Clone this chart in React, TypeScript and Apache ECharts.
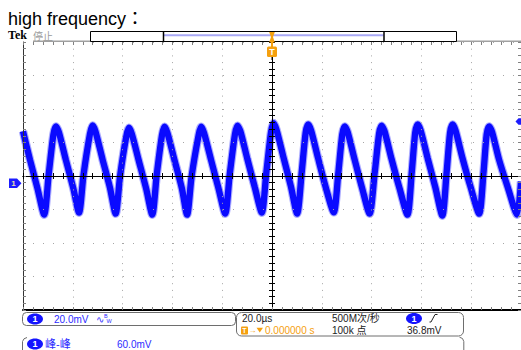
import React, { useEffect, useRef } from 'react';
import * as echarts from 'echarts';

// ---- values ----
// time in µs (screen centre = trigger = 0), CH1 voltage in mV relative to the CH1 ground marker
const TIME_US = [
  -100, -97.2, -94.2, -91.5,
  -89.7, -87.8, -86.8, -85.6, -82.8, -79.8, -77.5,
  -75.7, -73.1, -72.1, -70.9, -68.1, -65.1, -62.8,
  -61.0, -58.5, -57.5, -56.3, -53.5, -50.5, -48.1,
  -46.3, -44.2, -43.2, -42.0, -39.2, -36.2, -34.1,
  -32.3, -29.5, -28.5, -27.3, -24.5, -21.5, -18.8,
  -17.0, -14.9, -13.9, -12.7, -9.9, -6.9, -4.1,
  -2.3, -0.4, 0.6, 1.8, 4.6, 7.6, 10.1,
  11.9, 13.5, 14.5, 15.7, 18.5, 21.5, 24.8,
  26.6, 28.2, 29.2, 30.4, 33.2, 36.2, 39.2,
  41.2, 43.0, 44.0, 45.2, 48.0, 51.2, 54.4,
  56.1, 57.5, 58.5, 59.7, 62.5, 65.6, 68.4,
  70.1, 71.5, 72.5, 73.7, 76.5, 79.8, 83.2,
  84.9, 86.2, 87.2, 88.4, 91.2, 94.8, 98.4,
  100,
];
const CH1_MV = [
  31, 14, -3, -18.8,
  5, 29, 33.9, 30.5, 14, -3, -17.6,
  5, 29.5, 34.5, 31, 14.5, -2.5, -18.2,
  4.5, 28, 33.1, 29.5, 13.5, -3.5, -18.8,
  5, 28.5, 33.7, 30, 14, -3, -18.8,
  4, 28.5, 33.7, 30, 14, -3, -18.2,
  5, 29, 34.3, 31, 14.5, -2.5, -17.6,
  6, 30.5, 35.9, 32, 15.5, -2, -18.2,
  6, 30, 35.1, 31.5, 15, -2, -17.4,
  5.5, 29, 33.9, 30.5, 14, -3, -18.2,
  5.5, 29.5, 34.3, 31, 14.5, -3, -18.8,
  6, 30, 35.1, 31.5, 15, -2.5, -19.4,
  6, 30, 35.1, 31.5, 15, -2.5, -18.2,
  5.5, 29, 33.9, 30.5, 14, -3, -18.8,
  1,
];

const TIME_MIN_US = -100;
const TIME_MAX_US = 100;
const TIME_DIV_US = 20;
const VOLT_MIN_MV = -80;
const VOLT_MAX_MV = 80;
const VOLT_DIV_MV = 20;
const CH1_OFFSET_MV = -4.3; // ground marker sits slightly below the screen centre
const TRIGGER_TIME_US = 0;
const TRIGGER_LEVEL_MV = 36.8;

// ---- texts ----
const TITLE = 'high frequency：';
const BRAND = 'Tek';
const RUN_STATE = '停止';
const CH_LABEL = '1';
const CH1_SCALE = '20.0mV';
const TIMEBASE = '20.0µs';
const SAMPLE_RATE = '500M次/秒';
const RECORD_LEN = '100k 点';
const TRIG_POS = '0.000000 s';
const TRIG_LEVEL_TEXT = '36.8mV';
const MEAS_NAME = '峰-峰';
const MEAS_VALUE = '60.0mV';

const SANS = '"Liberation Sans", Arial, "Noto Sans CJK SC", sans-serif';
const TITLE_FONT = '"Liberation Sans", Arial, "Noto Sans CJK TC", sans-serif';
const SERIF = '"Liberation Serif", "Times New Roman", serif';
const BLUE = '#0a0aff';
const TXT_BLUE = '#2c2cff';
const ORANGE = '#f5a00f';
const DARK = '#222';
const BOX = '#6e6e6e';

const txt = (x: number, y: number, text: string, fill: string, size = 10, extra: any = {}) => ({
  type: 'text',
  z: 20,
  silent: true,
  style: { x, y, text, fill, fontSize: size, fontFamily: SANS, align: 'left', verticalAlign: 'middle', ...extra },
});

const oval = (cx: number, cy: number) => [
  { type: 'ellipse', z: 20, silent: true, shape: { cx, cy, rx: 8, ry: 5.5 }, style: { fill: '#1414ff' } },
  txt(cx, cy, CH_LABEL, '#fff', 9, { align: 'center', fontWeight: 'bold' }),
];

function baseAxis(kind: 'x' | 'y') {
  return kind === 'x'
    ? { type: 'value', min: TIME_MIN_US, max: TIME_MAX_US, interval: TIME_DIV_US }
    : { type: 'value', min: VOLT_MIN_MV, max: VOLT_MAX_MV, interval: VOLT_DIV_MV };
}

function borderAxis(kind: 'x' | 'y', position: string, lineShow: boolean, lineColor: string, lineWidth: number, split: boolean) {
  return {
    ...baseAxis(kind),
    position,
    z: 4,
    axisLabel: { show: false },
    axisLine: { show: lineShow, onZero: false, lineStyle: { color: lineColor, width: lineWidth } },
    axisTick: { show: true, inside: true, length: 3, lineStyle: { color: '#808080', width: 1 } },
    minorTick: { show: true, splitNumber: 5, length: 3, lineStyle: { color: '#808080', width: 1 } },
    splitLine: {
      show: split,
      lineStyle: { color: '#a6a6a6', width: 1, type: kind === 'x' ? [1, 5.7] : [1, 9] },
    },
  };
}

function centreAxis(kind: 'x' | 'y', position: string) {
  return {
    ...baseAxis(kind),
    position,
    z: 4,
    axisLabel: { show: false },
    axisLine: { show: true, onZero: true, onZeroAxisIndex: 0, lineStyle: { color: '#000', width: 1 } },
    axisTick: { show: true, inside: false, length: 3, lineStyle: { color: '#000', width: 1 } },
    minorTick: { show: true, splitNumber: 5, length: 3, lineStyle: { color: '#000', width: 1 } },
    splitLine: { show: false },
  };
}

function buildOption() {
  const data = TIME_US.map((t, i) => [t, CH1_MV[i] + CH1_OFFSET_MV]);
  return {
    animation: false,
    backgroundColor: '#fff',
    grid: { left: 23, top: 42, width: 500, height: 268 },
    xAxis: [
      borderAxis('x', 'bottom', true, '#000', 2, true),
      borderAxis('x', 'top', false, '#a0a0a0', 1.5, false),
      centreAxis('x', 'bottom'),
      centreAxis('x', 'top'),
    ],
    yAxis: [
      borderAxis('y', 'left', true, '#333', 1, true),
      borderAxis('y', 'right', true, '#333', 1, false),
      centreAxis('y', 'left'),
      centreAxis('y', 'right'),
    ],
    series: [
      {
        type: 'line', xAxisIndex: 0, yAxisIndex: 0, data, symbol: 'none', smooth: 0.25, silent: true, z: 2,
        lineStyle: { color: 'rgba(70,70,255,0.45)', width: 8.5 },
      },
      {
        type: 'line', xAxisIndex: 0, yAxisIndex: 0, data, symbol: 'none', smooth: 0.25, silent: true, z: 2,
        lineStyle: { color: BLUE, width: 6.3 },
      },
    ],
  };
}

function buildGraphic(px: (t: number, v: number) => number[]) {
  const gndY = px(0, CH1_OFFSET_MV)[1];
  const trigY = px(0, TRIGGER_LEVEL_MV + CH1_OFFSET_MV)[1];
  const trigX = px(TRIGGER_TIME_US, 0)[0];
  const g: any[] = [
    // title & header
    txt(8, 18.8, TITLE, '#000', 18, { fontFamily: TITLE_FONT }),
    txt(8, 35, BRAND, '#000', 12, { fontFamily: SERIF, fontWeight: 'bold' }),
    txt(33, 36, RUN_STATE, '#9a9a9a', 10),
    { type: 'line', z: 15, silent: true, shape: { x1: 33, y1: 41.3, x2: 521, y2: 41.3 }, style: { stroke: '#a0a0a0', lineWidth: 1.6 } },
    // record overview bar
    { type: 'rect', z: 16, silent: true, shape: { x: 90.5, y: 31.5, width: 366, height: 10 }, style: { fill: '#fff', stroke: '#000', lineWidth: 1 } },
    { type: 'line', z: 17, silent: true, shape: { x1: 164, y1: 35.2, x2: 383.5, y2: 35.2 }, style: { stroke: '#a8a8f6', lineWidth: 2 } },
    { type: 'line', z: 17, silent: true, shape: { x1: 163.5, y1: 31.5, x2: 163.5, y2: 41.5 }, style: { stroke: '#000', lineWidth: 1.5 } },
    { type: 'line', z: 17, silent: true, shape: { x1: 384, y1: 31.5, x2: 384, y2: 41.5 }, style: { stroke: '#000', lineWidth: 1.5 } },
    // trigger position markers
    { type: 'line', z: 18, silent: true, shape: { x1: trigX, y1: 32, x2: trigX, y2: 47 }, style: { stroke: ORANGE, lineWidth: 2 } },
    { type: 'polygon', z: 18, silent: true, shape: { points: [[trigX - 2.8, 32], [trigX + 2.8, 32], [trigX + 1, 37], [trigX + 2.8, 42.5], [trigX - 2.8, 42.5], [trigX - 1, 37]] }, style: { fill: ORANGE } },
    { type: 'line', z: 18, silent: true, shape: { x1: trigX, y1: 56, x2: trigX, y2: 60 }, style: { stroke: '#000', lineWidth: 1 } },
    { type: 'rect', z: 19, silent: true, shape: { x: trigX - 5, y: 46.5, width: 10, height: 10.5, r: 1.5 }, style: { fill: ORANGE } },
    txt(trigX, 52, 'T', '#fff', 9, { align: 'center', fontWeight: 'bold' }),
    // channel ground marker
    { type: 'polygon', z: 20, silent: true, shape: { points: [[9, gndY - 4.8], [17, gndY - 4.8], [21.5, gndY], [17, gndY + 4.8], [9, gndY + 4.8]] }, style: { fill: '#1c1cff' } },
    txt(13.5, gndY, CH_LABEL, '#e6e0a8', 8, { align: 'center', fontWeight: 'bold' }),
    // trigger level marker on the right edge
    { type: 'polygon', z: 20, silent: true, shape: { points: [[515.5, trigY], [518.5, trigY - 3.2], [521, trigY - 3.2], [521, trigY + 3.2], [518.5, trigY + 3.2]] }, style: { fill: '#1c1cff' } },

    // status row 1 (left box)
    { type: 'rect', z: 15, silent: true, shape: { x: 22.5, y: 312.5, width: 213, height: 13, r: 4 }, style: { fill: '#fff', stroke: BOX, lineWidth: 1 } },
    ...oval(35, 319),
    txt(54, 319, CH1_SCALE, TXT_BLUE, 10),
    txt(96, 319, '∿', TXT_BLUE, 10),
    txt(104, 316, 'B', TXT_BLUE, 5.5),
    txt(106.5, 321, 'W', TXT_BLUE, 5.5),

    // horizontal / trigger box
    { type: 'rect', z: 15, silent: true, shape: { x: 236.5, y: 312.5, width: 227, height: 23.5, r: 5 }, style: { fill: '#fff', stroke: BOX, lineWidth: 1 } },
    txt(242, 318.5, TIMEBASE, DARK, 10),
    txt(332, 318.5, SAMPLE_RATE, DARK, 10),
    ...oval(414, 318.5),
    { type: 'polyline', z: 20, silent: true, shape: { points: [[429.5, 322], [431, 322], [435, 314.5], [437.5, 314.5]] }, style: { stroke: DARK, lineWidth: 1, fill: 'none' } },
    { type: 'rect', z: 20, silent: true, shape: { x: 241, y: 326.5, width: 7, height: 8, r: 1 }, style: { fill: ORANGE } },
    txt(244.5, 330.6, 'T', '#fff', 7, { align: 'center', fontWeight: 'bold' }),
    txt(248.5, 330.4, '→', ORANGE, 8),
    { type: 'polygon', z: 20, silent: true, shape: { points: [[256.5, 327.8], [263, 327.8], [259.75, 332.5]] }, style: { fill: ORANGE } },
    txt(265, 330.5, TRIG_POS, ORANGE, 10),
    txt(332, 330.5, RECORD_LEN, DARK, 10),
    txt(407, 330.5, TRIG_LEVEL_TEXT, DARK, 10),

    // measurement row
    { type: 'polyline', z: 15, silent: true, shape: { points: [[27, 337.5], [24, 338.8], [22.5, 341.5], [22.5, 351]] }, style: { stroke: BOX, lineWidth: 1, fill: 'none' } },
    { type: 'polyline', z: 15, silent: true, shape: { points: [[459.5, 337.2], [462.5, 338.5], [463.8, 341.5], [463.8, 351]] }, style: { stroke: BOX, lineWidth: 1, fill: 'none' } },
    ...oval(35, 344),
    txt(45, 344, MEAS_NAME, TXT_BLUE, 11),
    txt(117, 344, MEAS_VALUE, TXT_BLUE, 10),
  ];
  return g;
}

export default function App() {
  const ref = useRef<HTMLDivElement>(null);
  useEffect(() => {
    const el = ref.current;
    if (!el) return;
    const chart = echarts.init(el, null, { renderer: 'svg' });
    chart.setOption(buildOption());
    const px = (t: number, v: number) => chart.convertToPixel({ seriesIndex: 1 }, [t, v]) as number[];
    chart.setOption({ graphic: buildGraphic(px) });
    return () => chart.dispose();
  }, []);
  return (
    <div
      ref={ref}
      style={{ position: 'absolute', left: 0, top: 0, width: 521, height: 350, background: '#fff' }}
    />
  );
}
